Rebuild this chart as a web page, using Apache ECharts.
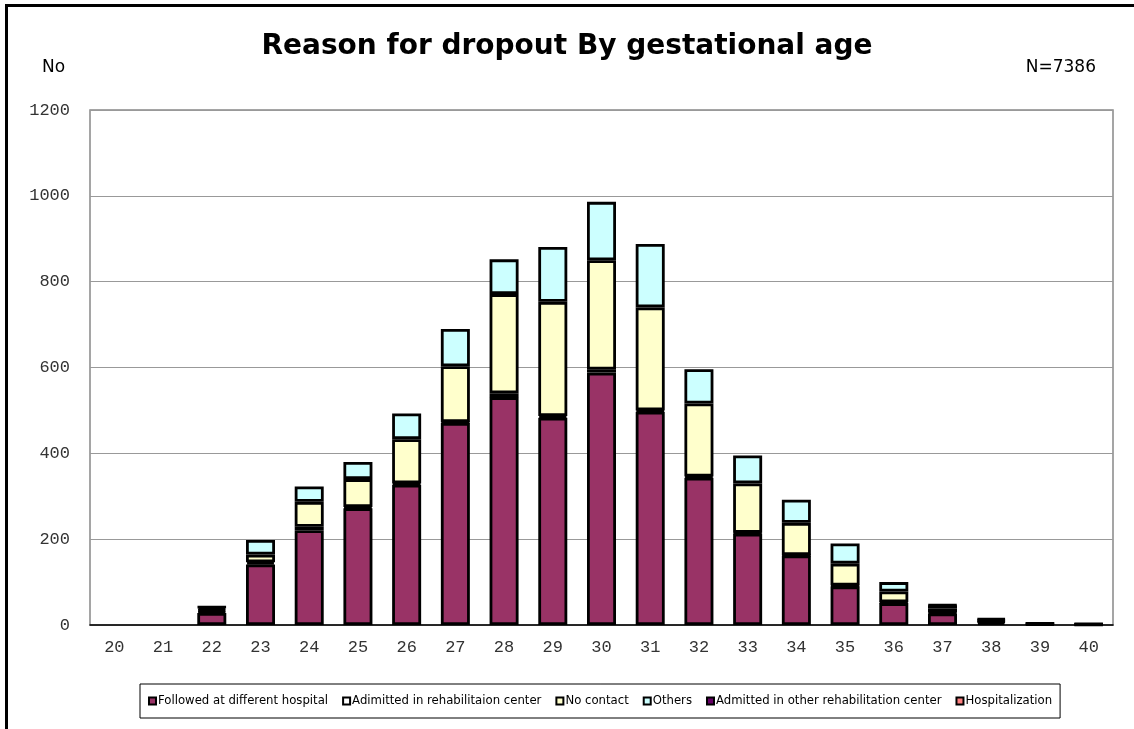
<!DOCTYPE html>
<html>
<head>
<meta charset="utf-8">
<script src="https://cdn.jsdelivr.net/npm/echarts@6/dist/echarts.min.js"></script>
<style>
html,body{margin:0;padding:0;background:#fff;}
#chart{width:1134px;height:729px;}
</style>
</head>
<body>
<div id="chart"></div>
<script>
var categories = ['20','21','22','23','24','25','26','27','28','29','30','31','32','33','34','35','36','37','38','39','40'];
var followedDiffHospital = [0,0,28,141,221,272,327,471,531,483,588,497,343,213,162,90,51,27,6,2,1];
var admittedRehab        = [0,0,4,5,8,3,3,2,9,4,7,3,3,2,1,2,2,2,3,1,1];
var noContact            = [0,0,4,18,58,65,103,130,231,266,255,240,170,115,75,51,25,9,3,1,1];
var others               = [0,0,5,34,36,40,60,87,81,128,136,148,80,65,54,47,22,8,3,0,0];
var admittedOtherRehab   = [0,0,1,0,0,0,0,0,0,0,0,0,0,0,0,0,0,1,0,0,0];
var hospitalization      = [0,0,0,0,0,0,0,0,0,0,0,0,0,0,0,0,0,0,0,0,0];
var yTicks = [0,200,400,600,800,1000,1200];

var seriesDefs = [
  ['Followed at different hospital', followedDiffHospital, '#993366'],
  ['Adimitted in rehabilitaion center', admittedRehab, '#FFFFFF'],
  ['No contact', noContact, '#FFFFCC'],
  ['Others', others, '#CCFFFF'],
  ['Admitted in other rehabilitation center', admittedOtherRehab, '#660066'],
  ['Hospitalization', hospitalization, '#FF8080']
];

var chart = echarts.init(document.getElementById('chart'));
var option = {
  animation: false,
  backgroundColor: '#fff',
  title: [
    {text: 'Reason for dropout By gestational age', left: 'center', top: 28,
     textStyle: {fontFamily: 'DejaVu Sans', fontWeight: 'bold', fontSize: 28, color: '#000'}},
    {text: 'No', left: 37, top: 54,
     textStyle: {fontFamily: 'DejaVu Sans', fontWeight: 'normal', fontSize: 17, color: '#000'}},
    {text: 'N=7386', right: 33, top: 54,
     textStyle: {fontFamily: 'DejaVu Sans', fontWeight: 'normal', fontSize: 17, color: '#000'}}
  ],
  legend: {
    bottom: 11,
    left: 140,
    icon: 'rect',
    itemWidth: 7,
    itemHeight: 7,
    itemGap: 14,
    padding: [11, 8, 11, 8],
    borderColor: '#000',
    borderWidth: 1,
    textStyle: {fontFamily: 'DejaVu Sans', fontSize: 11.7, color: '#000', padding: [0,0,0,-3]},
    itemStyle: {borderColor: '#000', borderWidth: 2},
    data: seriesDefs.map(function(s){return s[0];})
  },
  grid: {
    left: 90, right: 21, top: 110, bottom: 104,
    show: true, borderColor: '#888', borderWidth: 1.5
  },
  xAxis: {
    type: 'category',
    data: categories,
    axisLine: {lineStyle: {color: '#000', width: 1.5}},
    axisTick: {inside: true, length: 5, lineStyle: {color: '#000'}},
    axisLabel: {fontFamily: 'Liberation Mono', fontSize: 17, color: '#333', margin: 14}
  },
  yAxis: {
    type: 'value',
    min: yTicks[0], max: yTicks[yTicks.length - 1], interval: yTicks[1] - yTicks[0],
    axisLine: {show: false},
    axisTick: {show: false},
    axisLabel: {fontFamily: 'Liberation Mono', fontSize: 17, color: '#333', margin: 20,
                formatter: function(v){ return String(v); }},
    splitLine: {lineStyle: {color: '#999', width: 1.2}}
  },
  graphic: [
    {type: 'line', shape: {x1: 6.5, y1: 5.5, x2: 1134, y2: 5.5}, style: {stroke: '#000', lineWidth: 3}, silent: true},
    {type: 'line', shape: {x1: 6.5, y1: 4, x2: 6.5, y2: 729}, style: {stroke: '#000', lineWidth: 3}, silent: true}
  ],
  series: seriesDefs.map(function(s){
    return {
      name: s[0],
      type: 'bar',
      stack: 'total',
      barWidth: 29,
      data: s[1].map(function(v){ return v === 0 ? '-' : v; }),
      itemStyle: {color: s[2], borderColor: '#000', borderWidth: 2.8}
    };
  })
};
chart.setOption(option);
</script>
</body>
</html>
